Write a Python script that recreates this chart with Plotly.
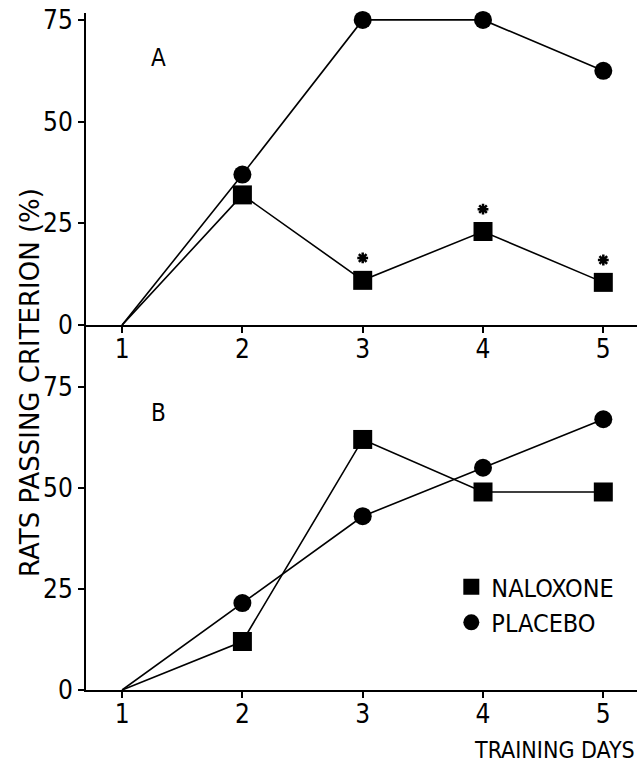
import plotly.graph_objects as go

days = [1, 2, 3, 4, 5]
a_naloxone = [0, 32, 11, 23, 10.5]
a_placebo = [0, 37, 75, 75, 62.5]
b_naloxone = [0, 12, 62, 49, 49]
b_placebo = [0, 21.5, 43, 55, 67]
a_sig_days = [3, 4, 5]
y_ticks = [0, 25, 50, 75]
x_ticks = [1, 2, 3, 4, 5]

FONT = "DejaVu Sans Condensed"
sq_size = [0, 19, 19, 19, 19]
ci_size = [0, 18, 18, 18, 18]

fig = go.Figure()

def add(x, y, symbol, xa, ya, size):
    fig.add_trace(go.Scatter(
        x=x, y=y, mode="lines+markers", xaxis=xa, yaxis=ya,
        line=dict(color="black", width=1.6),
        marker=dict(symbol=symbol, size=size, color="black", opacity=1,
                    line=dict(width=0)),
        showlegend=False, cliponaxis=False, hoverinfo="skip"))

add(days, a_placebo, "circle", "x", "y", ci_size)
add(days, a_naloxone, "square", "x", "y", sq_size)
add(days, b_naloxone, "square", "x2", "y2", sq_size)
add(days, b_placebo, "circle", "x2", "y2", ci_size)

# significance asterisks above naloxone points (panel A)
sig_y = [a_naloxone[days.index(d)] + 5.5 for d in a_sig_days]
fig.add_trace(go.Scatter(
    x=a_sig_days, y=sig_y, mode="markers", xaxis="x", yaxis="y",
    marker=dict(symbol="asterisk-open", size=9, color="black", opacity=1,
                line=dict(color="black", width=2.5)),
    showlegend=False, cliponaxis=False, hoverinfo="skip"))

# legend entries
fig.add_trace(go.Scatter(x=[None], y=[None], mode="markers", name="NALOXONE",
                         marker=dict(symbol="square", size=19, color="black")))
fig.add_trace(go.Scatter(x=[None], y=[None], mode="markers", name="PLACEBO",
                         marker=dict(symbol="circle", size=18, color="black")))

axis_common = dict(showline=True, linecolor="black", linewidth=2, ticks="outside",
                   ticklen=6, tickwidth=1.5, tickcolor="black", showgrid=False,
                   zeroline=False, automargin=False,
                   tickfont=dict(family=FONT, size=26, color="black"))
x_common = dict(domain=[0, 1], range=[0.7, 5.28], tickvals=x_ticks,
                ticklabelstandoff=-6, **axis_common)

fig.update_layout(
    template="none",
    width=643, height=774,
    margin=dict(l=86, r=6, t=13, b=84, autoexpand=False),
    paper_bgcolor="white", plot_bgcolor="white",
    font=dict(family=FONT, color="black"),
    xaxis=dict(anchor="y", **x_common),
    yaxis=dict(domain=[0.539, 1], anchor="x", range=[0, 76.7], tickvals=y_ticks, **axis_common),
    xaxis2=dict(anchor="y2", **x_common),
    yaxis2=dict(domain=[0, 0.539], anchor="x2", range=[0, 90.3], tickvals=y_ticks, **axis_common),
    legend=dict(x=0.663, y=0.186, xanchor="left", yanchor="top",
                font=dict(family=FONT, size=25, color="black"),
                bgcolor="rgba(0,0,0,0)", tracegroupgap=0),
    annotations=[
        dict(text="RATS PASSING CRITERION (%)", xref="paper", yref="paper",
             x=-0.1016, y=0.4535, xanchor="center", yanchor="middle",
             textangle=-90, showarrow=False,
             font=dict(family="DejaVu Sans", size=26)),
        dict(text="TRAINING DAYS", xref="paper", yref="paper",
             x=0.851, y=-0.0886, xanchor="center", yanchor="middle",
             showarrow=False, font=dict(family=FONT, size=23)),
        dict(text="A", xref="paper", yref="paper", x=0.1307, y=0.9335,
             xanchor="center", yanchor="middle", showarrow=False,
             font=dict(family=FONT, size=24)),
        dict(text="B", xref="paper", yref="paper", x=0.1307, y=0.409,
             xanchor="center", yanchor="middle", showarrow=False,
             font=dict(family=FONT, size=24)),
    ],
)

fig.write_html("out.html", config={"displayModeBar": False},
               post_script="document.body.style.margin='0';")
